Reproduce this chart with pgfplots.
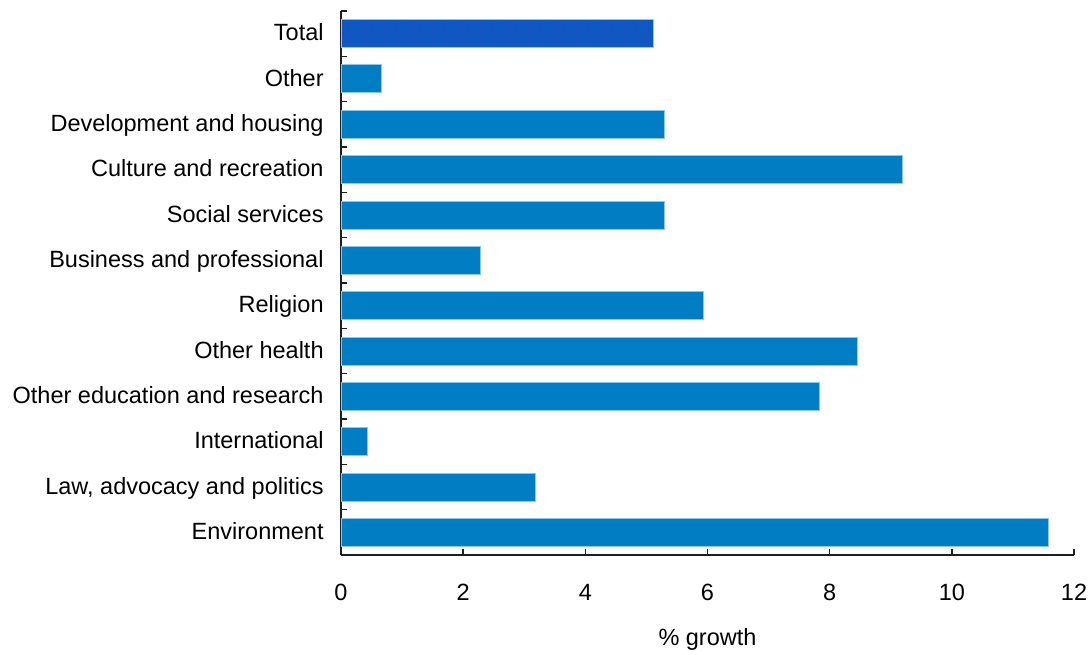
\documentclass[border=0pt]{standalone}
\usepackage{fontspec}
\setmainfont{Liberation Sans}
\usepackage{pgfplots}
\pgfplotsset{compat=1.18}
\usetikzlibrary{patterns}
\definecolor{barblue}{RGB}{0,125,195}
\definecolor{baredge}{RGB}{140,200,235}
\definecolor{totblue}{RGB}{10,90,195}
\definecolor{totdot}{RGB}{80,55,165}
\definecolor{axgray}{RGB}{30,30,30}
\begin{document}
\fontsize{11.75}{14}\selectfont
\begin{tikzpicture}
\useasboundingbox (0,0) rectangle (545pt,327pt);
\begin{axis}[
  at={(170.5pt,49.5pt)}, anchor=south west,
  scale only axis, width=366.5pt, height=272pt,
  xbar, bar width=14pt, bar shift=0pt,
  xmin=0, xmax=12, ymin=-0.5, ymax=11.5,
  axis x line*=bottom, axis y line*=left,
  axis line style={axgray, line width=0.75pt},
  tick style={axgray, line width=0.75pt},
  tick align=inside, major tick length=3pt,
  xtick={0,2,4,6,8,10,12},
  /pgf/number format/assume math mode=true,
  xticklabel style={anchor=base, inner sep=0pt, yshift=-22.5pt, font=\fontsize{11.75}{14}\selectfont},
  ytick={-0.5,0.5,...,11.5},
  yticklabels={},
  extra y ticks={0,1,2,3,4,5,6,7,8,9,10,11},
  extra y tick labels={Environment,{Law, advocacy and politics},International,Other education and research,Other health,Religion,Business and professional,Social services,Culture and recreation,Development and housing,Other,Total},
  extra y tick style={tick style={draw=none}, yticklabel style={anchor=base east, inner sep=0pt, xshift=-8.5pt, yshift=-3.6pt, font=\fontsize{11.75}{14}\selectfont}},
  xlabel={\% growth},
  xlabel style={at={(axis description cs:0.5,0)}, anchor=base, yshift=-45pt, inner sep=0pt, font=\fontsize{11.75}{14}\selectfont},
  clip=false,
]
\addplot[fill=barblue, draw=baredge, line width=0.5pt] coordinates {
  (11.59,0) (3.19,1) (0.43,2) (7.83,3) (8.45,4) (5.94,5)
  (2.28,6) (5.30,7) (9.20,8) (5.30,9) (0.67,10)
};
\addplot[fill=totblue, draw=baredge, line width=0.5pt, postaction={pattern=dots, pattern color=totdot}] coordinates {
  (5.11,11)
};
\end{axis}
\end{tikzpicture}
\end{document}
